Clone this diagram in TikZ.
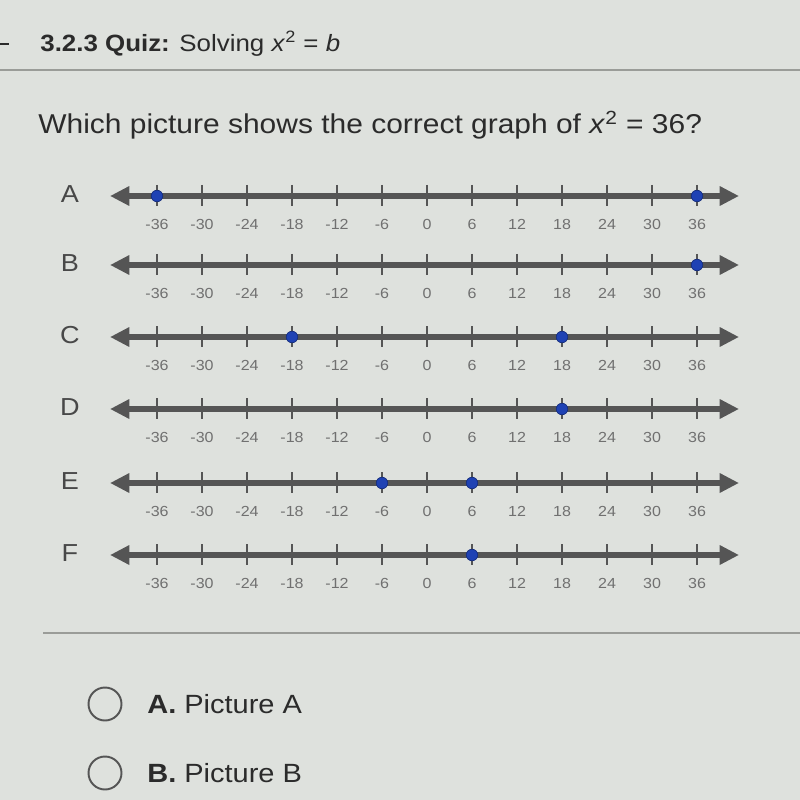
\documentclass[tikz,border=0pt]{standalone}
\usepackage{fontspec}
\setmainfont[FakeStretch=1.1]{Liberation Sans}
\usetikzlibrary{arrows.meta}

\definecolor{pagebg}{HTML}{DEE1DD}
\definecolor{inktext}{HTML}{2B2B2B}
\definecolor{linegray}{HTML}{555555}
\definecolor{ticktext}{HTML}{707070}
\definecolor{dotblue}{HTML}{1F42B4}
\definecolor{rulegray}{HTML}{9A9C98}

\begin{document}
\begin{tikzpicture}[x=0.02cm,y=-0.02cm,
  every node/.style={inner sep=0pt,text=inktext},
  numline/.style={draw=linegray,line width=3.4pt,
    {Triangle[length=11pt,width=10.5pt]}-{Triangle[length=11pt,width=10.5pt]}},
  tickmark/.style={draw=linegray,line width=1.1pt},
  ticklabel/.style={text=ticktext,font=\fontsize{8.3}{9}\selectfont},
  rowlabel/.style={font=\fontsize{14}{16}\selectfont,text=linegray!85!black},
  ptdot/.style={circle,fill=dotblue,draw=dotblue!70!black,line width=0.4pt,minimum size=0.23cm},
  choice/.style={circle,draw=linegray,line width=1.1pt,minimum size=0.66cm},
  choicetext/.style={anchor=west,font=\fontsize{15}{17}\selectfont}
  ]
\fill[pagebg] (0,0) rectangle (800,800);
\useasboundingbox (0,0) rectangle (800,800);

% header
\draw[inktext,line width=1.2pt] (0,44) -- (9,44);
\node[anchor=west,font=\fontsize{13.4}{16}\selectfont] (title) at (40,44)
  {\textbf{3.2.3 Quiz:} Solving \textit{x}\textsuperscript{2} = \textit{b}};
\draw[rulegray,line width=0.8pt] (0,70) -- (800,70);

% question
\node[anchor=west,font=\fontsize{15.5}{18}\selectfont] (question) at (38,125)
  {Which picture shows the correct graph of \textit{x}\textsuperscript{2} = 36?};

% number lines
\foreach \lab/\yy/\pts in {A/196/{-36,36},B/265/{36},C/337/{-18,18},
                           D/409/{18},E/483/{-6,6},F/555/{6}} {
  \node[rowlabel] (row\lab) at (70,\yy-2) {\lab};
  \coordinate (l\lab) at (110,\yy);
  \coordinate (r\lab) at (739,\yy);
  \draw[numline] (l\lab) -- (r\lab);
  \foreach \v in {-36,-30,...,36} {
    \draw[tickmark] (427+7.5*\v,\yy-11) -- (427+7.5*\v,\yy+10);
    \node[ticklabel] (t\lab\v) at (427+7.5*\v,\yy+28) {\v};
  }
  \foreach \p in \pts
    \node[ptdot] (p\lab\p) at (427+7.5*\p,\yy) {};
}

\draw[rulegray,line width=0.8pt] (43,633) -- (800,633);

% answer choices
\node[choice] (optA) at (105,704) {};
\node[choicetext] (optAtext) at (147,704) {\textbf{A.} Picture A};
\node[choice] (optB) at (105,773) {};
\node[choicetext] (optBtext) at (147,773) {\textbf{B.} Picture B};
\end{tikzpicture}
\end{document}
